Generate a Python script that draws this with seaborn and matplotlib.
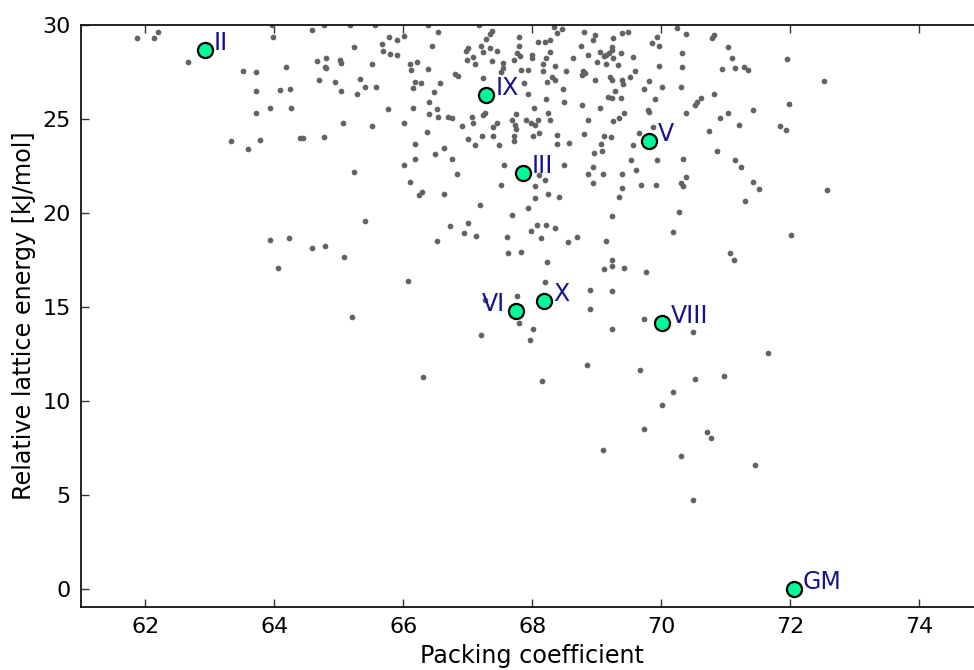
import matplotlib
matplotlib.use("Agg")
import matplotlib.pyplot as plt
import seaborn as sns
import pandas as pd

# Gray candidate structures: packing coefficient and relative lattice energy
pack_x = [
    61.87, 62.13, 62.20, 62.66, 63.52, 63.71, 64.19, 64.67, 64.81, 64.78, 64.81, 64.70, 63.71, 64.09, 64.25,
    63.94, 64.26, 63.71, 63.33, 63.60, 63.78, 64.40, 64.44, 64.77, 63.98, 63.96, 64.58, 64.77,
    63.94, 64.23, 64.59, 64.79, 64.06,
    65.40, 66.73, 67.00, 66.94, 67.13, 66.52, 67.61, 67.98, 68.07, 68.21, 68.36, 68.14, 68.55, 68.69, 67.63,
    67.83, 68.23, 65.08, 66.07, 68.20, 67.77, 67.27, 65.21, 67.80, 68.02, 67.20, 67.97, 66.31, 68.15,
    70.19, 72.01, 69.14, 71.06, 71.13, 69.23, 69.24, 69.12, 69.42, 69.76, 68.90, 69.24, 68.89, 69.73, 69.24,
    70.49, 71.66, 68.85, 69.67, 70.53, 70.98, 70.19, 70.02,
    69.74, 69.10, 70.71, 70.78, 70.30, 71.45, 70.49,
    65.17, 65.57, 66.39, 67.17, 66.54, 67.38, 67.34, 67.29, 67.79, 68.34, 68.46, 68.38, 65.78, 66.01, 65.90,
    65.67, 65.23, 66.45, 65.69, 65.79, 65.91, 67.00, 66.98, 67.20, 67.23, 67.34, 67.45, 67.79, 67.76, 67.81,
    68.09, 68.20, 68.27, 68.00, 68.00, 68.27, 68.22, 68.64, 65.02, 65.04, 65.51, 66.10, 66.21, 66.12, 66.39,
    66.99, 67.08, 67.11, 67.37, 67.55, 67.55, 67.51, 67.72, 67.82, 67.93, 68.17, 68.16, 68.36, 68.53, 64.95,
    65.33, 65.40, 65.58, 65.04, 65.28, 66.19, 66.27, 66.15, 66.57, 66.80, 66.85, 66.47, 67.24, 67.88, 67.93,
    68.23, 68.31, 68.35, 68.47, 68.22, 68.50, 68.03, 66.40, 66.15, 65.77, 66.53, 66.40, 66.54, 66.70, 66.76,
    67.06, 67.08, 67.23, 67.27, 65.06, 65.52, 66.02, 66.37, 66.91, 67.39, 67.45, 67.40, 67.68, 67.73, 67.75,
    67.75, 67.91, 67.98, 68.05, 68.09, 68.10, 68.01, 68.24, 68.28, 68.39, 68.39, 68.57, 67.72, 67.72, 67.48,
    67.12, 67.00, 67.22, 66.19, 66.64, 66.49, 66.18, 66.75, 66.01, 67.57, 68.49, 65.24, 66.84, 68.10, 68.20,
    66.10, 67.52, 68.05, 66.29, 66.25, 66.63, 68.25, 68.41, 68.04, 67.19, 67.93, 67.69,
    68.81, 68.97, 68.94, 69.25, 69.40, 69.49, 69.94, 70.24, 70.39, 70.79, 70.82, 69.86, 69.96, 68.76, 69.23,
    68.86, 69.05, 69.15, 69.19, 69.23, 69.38, 69.57, 69.25, 69.12, 70.33, 71.04, 71.10, 71.95, 69.00, 69.15,
    69.33, 69.96, 70.32, 70.94, 71.15, 71.29, 71.35, 68.79, 68.82, 68.78, 69.60, 69.51, 69.20, 69.24, 69.39,
    69.41, 68.98, 69.81, 69.73, 70.01, 70.30, 72.53, 69.29, 69.18, 69.24, 69.37, 68.78, 69.05, 69.90, 69.79,
    69.81, 70.55, 70.61, 70.52, 70.82, 70.39, 71.43, 71.98, 71.03, 70.91, 71.20, 71.84, 71.93, 68.87, 69.25,
    69.35, 69.43, 69.88, 68.80, 69.11, 69.22, 69.65, 70.74, 69.07, 69.57, 69.09, 68.96, 70.86, 69.53, 69.94,
    70.34, 71.14, 68.94, 69.61, 71.24, 68.86, 69.10, 69.40, 70.38, 68.95, 69.68, 69.92, 70.30, 70.34, 71.42,
    71.51, 72.57, 69.39, 69.34, 71.30, 70.27, 69.23,
]
energy_y = [
    29.30, 29.33, 29.64, 28.05, 27.56, 27.52, 27.79, 28.09, 28.27, 27.77, 27.69, 27.09, 26.47, 26.54, 26.57,
    25.58, 25.60, 25.31, 23.84, 23.41, 23.89, 24.00, 24.00, 24.05, 29.39, 29.98, 29.74, 29.98,
    18.55, 18.66, 18.14, 18.23, 17.08,
    19.57, 19.32, 19.48, 18.91, 18.78, 18.52, 18.73, 19.03, 19.37, 19.37, 19.21, 18.66, 18.45, 18.73, 17.88,
    17.91, 17.38, 17.66, 16.35, 16.31, 15.57, 15.34, 14.48, 14.11, 13.82, 13.50, 13.22, 11.24, 11.05,
    18.98, 18.84, 18.48, 17.84, 17.50, 17.47, 17.17, 17.01, 17.08, 16.83, 15.90, 15.82, 14.86, 14.34, 13.82,
    13.66, 12.56, 11.92, 11.63, 11.14, 11.30, 10.46, 9.79,
    8.51, 7.40, 8.32, 8.02, 7.08, 6.58, 4.72,
    29.98, 29.98, 29.98, 29.98, 29.65, 29.69, 29.51, 29.24, 29.39, 29.90, 29.78, 29.56, 29.37, 29.42, 29.19,
    28.98, 28.84, 28.87, 28.60, 28.44, 28.39, 28.76, 28.64, 28.87, 28.57, 28.80, 28.62, 28.91, 28.52, 28.36,
    29.12, 29.12, 29.23, 28.41, 28.27, 28.59, 28.25, 28.25, 28.12, 27.96, 27.94, 27.91, 28.05, 27.59, 27.64,
    28.12, 28.32, 27.94, 28.09, 28.00, 27.73, 27.52, 28.12, 27.59, 27.59, 27.91, 27.56, 27.80, 27.56, 26.99,
    27.11, 26.70, 26.72, 26.49, 26.31, 26.97, 26.93, 26.63, 26.89, 27.37, 27.29, 26.41, 27.20, 26.93, 26.31,
    26.97, 27.24, 27.09, 26.57, 26.08, 25.92, 25.60, 25.92, 25.60, 25.54, 25.54, 25.26, 25.12, 25.13, 25.06,
    25.10, 24.81, 25.19, 25.33, 24.76, 24.62, 24.81, 24.32, 24.62, 24.57, 24.78, 24.10, 24.96, 24.67, 24.44,
    25.28, 24.97, 24.81, 24.67, 24.97, 24.26, 24.07, 25.33, 24.92, 24.14, 23.68, 23.71, 24.10, 23.85, 23.64,
    23.64, 23.91, 24.10, 23.69, 23.46, 23.14, 22.88, 22.86, 22.57, 22.56, 22.57, 22.17, 22.06, 22.01, 21.76,
    21.63, 21.50, 21.45, 21.12, 20.97, 20.99, 21.02, 20.83, 20.78, 20.41, 20.26, 19.90,
    29.62, 29.48, 29.19, 29.33, 29.60, 29.64, 29.39, 29.83, 29.51, 29.33, 29.46, 29.07, 28.89, 28.89, 28.84,
    28.41, 28.59, 28.41, 28.53, 28.68, 28.53, 28.30, 28.27, 28.36, 28.53, 28.85, 28.23, 28.18, 28.01, 27.91,
    27.85, 27.84, 27.79, 27.64, 27.69, 27.79, 27.61, 27.56, 27.46, 27.34, 27.56, 27.24, 27.24, 27.05, 27.05,
    26.84, 27.05, 27.02, 26.61, 26.70, 26.72, 27.02, 26.49, 26.17, 26.09, 26.13, 25.72, 25.60, 26.08, 25.47,
    25.37, 25.90, 26.09, 25.77, 26.31, 25.33, 25.49, 25.79, 25.33, 25.03, 24.67, 24.65, 24.41, 24.97, 24.89,
    25.06, 25.33, 24.58, 24.21, 24.07, 24.03, 24.26, 24.35, 23.68, 23.59, 23.32, 23.20, 23.32, 22.79, 22.79,
    22.88, 22.84, 22.43, 22.27, 22.43, 22.06, 22.06, 22.06, 21.92, 21.60, 21.50, 21.49, 21.60, 21.45, 21.65,
    21.28, 21.21, 21.33, 20.85, 20.65, 20.06, 19.82,
]

# Highlighted (experimental / labelled) structures
form_names = ["II", "IX", "III", "V", "VI", "X", "VIII", "GM"]
form_x = [62.92, 67.29, 67.85, 69.81, 67.75, 68.18, 70.01, 72.06]
form_y = [28.66, 26.29, 22.11, 23.85, 14.75, 15.30, 14.12, 0.0]

sns.set_style("ticks")
plt.rcParams["font.family"] = ["DejaVu Sans"]
plt.rcParams["axes.labelcolor"] = "black"

fig = plt.figure(figsize=(9.74, 6.70), dpi=100)
ax = fig.add_axes([0.0829, 0.0936, 0.927, 0.869])

cloud = pd.DataFrame({"pack": pack_x, "energy": energy_y})
forms = pd.DataFrame({"pack": form_x, "energy": form_y, "name": form_names})

sns.scatterplot(data=cloud, x="pack", y="energy", ax=ax, color="#636363",
                s=17, linewidth=0, zorder=2)
sns.scatterplot(data=forms, x="pack", y="energy", ax=ax, color="#00FA9A",
                s=118, edgecolor="black", linewidth=1.6, zorder=3)

label_color = "#14148c"
for name, px, py in zip(form_names, form_x, form_y):
    if name == "VI":
        ax.annotate(name, (px, py), xytext=(-8, 0), textcoords="offset points",
                    ha="right", va="baseline", color=label_color, fontsize=17)
    else:
        ax.annotate(name, (px, py), xytext=(6.5, 0), textcoords="offset points",
                    ha="left", va="baseline", color=label_color, fontsize=17)

ax.set_xlim(61, 75)
ax.set_ylim(-1, 30)
ax.set_xticks([62, 64, 66, 68, 70, 72, 74])
ax.set_yticks([0, 5, 10, 15, 20, 25, 30])
ax.tick_params(direction="in", top=True, right=True, length=6, width=1,
               labelsize=16, color="#333333", labelcolor="black", pad=7)
for sp in ax.spines.values():
    sp.set_linewidth(1.3)
    sp.set_color("#111111")

ax.set_xlabel("Packing coefficient", fontsize=17.2, labelpad=5, color="black")
ax.set_ylabel("Relative lattice energy [kJ/mol]", fontsize=17.2, labelpad=5, color="black")

fig.savefig("out.png", dpi=100)
